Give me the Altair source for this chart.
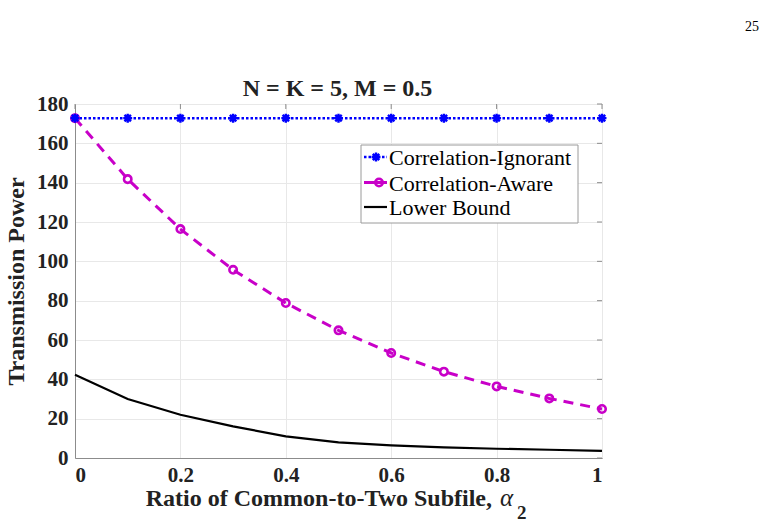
import altair as alt
import pandas as pd

# Ratio of common-to-two subfile (alpha_2)
alpha = [0.0, 0.1, 0.2, 0.3, 0.4, 0.5, 0.6, 0.7, 0.8, 0.9, 1.0]
# Transmission power for each scheme
ignorant = [172.8, 172.8, 172.8, 172.8, 172.8, 172.8, 172.8, 172.8, 172.8, 172.8, 172.8]
aware = [172.8, 141.8, 116.4, 95.7, 78.8, 64.9, 53.4, 43.9, 36.4, 30.3, 24.9]
lower = [42.3, 30.0, 22.0, 16.1, 11.0, 7.9, 6.4, 5.4, 4.7, 4.2, 3.6]

x_ticks = [0, 0.2, 0.4, 0.6, 0.8, 1]
y_ticks = [0, 20, 40, 60, 80, 100, 120, 140, 160, 180]
legend_labels = ["Correlation-Ignorant", "Correlation-Aware", "Lower Bound"]

W, H = 527, 354
SERIF = "Liberation Serif"
BLUE = "#0000FF"
MAGENTA = "#C800C8"
INK = "#222222"
ASTERISK = "M-1,0L1,0M0,-1L0,1M-0.72,-0.72L0.72,0.72M-0.72,0.72L0.72,-0.72"

df = pd.DataFrame({"a": alpha, "ign": ignorant, "aw": aware, "lb": lower})

X_SCALE = alt.Scale(domain=[0, 1], nice=False)
Y_SCALE = alt.Scale(domain=[0, 180], nice=False)
# identical axis definitions on every layer so the merged axes keep all ticks
X_AXIS = alt.Axis(values=x_ticks, labelExpr="datum.value", title=None,
                  labelOverlap=False, labelPadding=6)
Y_AXIS = alt.Axis(values=y_ticks, title="Transmission Power", labelOverlap=False,
                  labelFlush=False, labelPadding=7, titlePadding=8)


def xq(field):
    return alt.X(field, type="quantitative", scale=X_SCALE, axis=X_AXIS)


def yq(field):
    return alt.Y(field, type="quantitative", scale=Y_SCALE, axis=Y_AXIS)


base = alt.Chart(df)

ign_line = base.mark_line(color=BLUE, strokeWidth=2.5, strokeDash=[2.5, 2]).encode(
    x=xq("a"), y=yq("ign"))
ign_pts = base.mark_point(shape=ASTERISK, color=BLUE, strokeWidth=2.4, size=80,
                          opacity=1).encode(x=xq("a"), y=yq("ign"))

aw_line = base.mark_line(color=MAGENTA, strokeWidth=3, strokeDash=[10, 7]).encode(
    x=xq("a"), y=yq("aw"))
aw_pts = base.mark_point(shape="circle", color=MAGENTA, strokeWidth=2.6, size=55,
                         filled=False, opacity=1).encode(x=xq("a"), y=yq("aw"))

lb_line = base.mark_line(color="black", strokeWidth=2.2).encode(x=xq("a"), y=yq("lb"))

# inward ticks on the right and top edges of the box
rt = alt.Chart(pd.DataFrame({"v": y_ticks})).mark_rule(color="#8c8c8c", strokeWidth=1).encode(
    y=yq("v"), x=alt.value(W - 5), x2=alt.value(W))
tt = alt.Chart(pd.DataFrame({"v": x_ticks})).mark_rule(color="#8c8c8c", strokeWidth=1).encode(
    x=xq("v"), y=alt.value(0), y2=alt.value(5))

# legend box
leg_df = pd.DataFrame({"label": legend_labels})
lx0, lx1, ly0, ly1 = 286, 503, 41, 119
row_y = [53, 78.5, 103]
box = alt.Chart(leg_df.iloc[[0]]).mark_rect(fill="white", stroke="#9a9a9a", strokeWidth=1).encode(
    x=alt.value(lx0), x2=alt.value(lx1), y=alt.value(ly0), y2=alt.value(ly1))


def leg_line(i, color, width, dash=None):
    kw = dict(color=color, strokeWidth=width)
    if dash:
        kw["strokeDash"] = dash
    return alt.Chart(leg_df.iloc[[i]]).mark_rule(**kw).encode(
        x=alt.value(289), x2=alt.value(312), y=alt.value(row_y[i]))


def leg_text(i):
    return alt.Chart(leg_df.iloc[[i]]).mark_text(
        align="left", baseline="middle", font=SERIF, fontSize=22, color="black").encode(
        x=alt.value(314), y=alt.value(row_y[i] + 1), text="label:N")


leg_lines = [
    leg_line(0, BLUE, 2.5, [2.5, 2]),
    leg_line(1, MAGENTA, 3),
    leg_line(2, "black", 2.2),
]
leg_m1 = alt.Chart(leg_df.iloc[[0]]).mark_point(shape=ASTERISK, color=BLUE, strokeWidth=2.4,
                                                size=80, opacity=1).encode(
    x=alt.value(301), y=alt.value(row_y[0]))
leg_m2 = alt.Chart(leg_df.iloc[[1]]).mark_point(shape="circle", color=MAGENTA, strokeWidth=2.6,
                                                size=55, filled=False, opacity=1).encode(
    x=alt.value(304), y=alt.value(row_y[1]))


def label(text, x, y, size, weight="bold", style="normal", align="left"):
    return alt.Chart(pd.DataFrame({"t": [text]})).mark_text(
        font=SERIF, fontSize=size, fontWeight=weight, fontStyle=style, align=align,
        baseline="alphabetic", color=INK).encode(x=alt.value(x), y=alt.value(y), text="t:N")


title = label("N = K = 5, M = 0.5", W / 2 - 1, -8, 24, align="center")

# x-axis title with an italic alpha and a lowered subscript
xt_main = label("Ratio of Common-to-Two Subfile,", 417, 402, 24, align="right")
xt_alpha = label("α", 425, 402, 25, weight="normal", style="italic")
xt_sub = label("2", 442, 415, 19)

page = alt.Chart(pd.DataFrame({"t": ["25"]})).mark_text(
    font=SERIF, fontSize=14, align="center", baseline="middle", color="black").encode(
    x=alt.value(677), y=alt.value(-77), text="t:N")

chart = alt.layer(
    ign_line, rt, tt, lb_line, aw_line, aw_pts, ign_pts,
    box, *leg_lines, leg_m1, leg_m2, leg_text(0), leg_text(1), leg_text(2),
    title, xt_main, xt_alpha, xt_sub, page,
).properties(
    width=W, height=H,
    autosize=alt.AutoSizeParams(type="none"),
    padding={"left": 75, "top": 104, "right": 177, "bottom": 67},
).configure_view(stroke="#8c8c8c", strokeWidth=1).configure_axis(
    labelFont=SERIF, labelFontSize=21, labelFontWeight="bold", labelColor=INK,
    titleFont=SERIF, titleFontSize=24, titleFontWeight="bold", titleColor=INK,
    grid=True, gridColor="#e8e8e8", gridWidth=1, labelOverlap=False,
    domainColor="#8c8c8c", tickSize=0,
)

chart.save("out.html", embed_options={"renderer": "svg", "actions": False})
